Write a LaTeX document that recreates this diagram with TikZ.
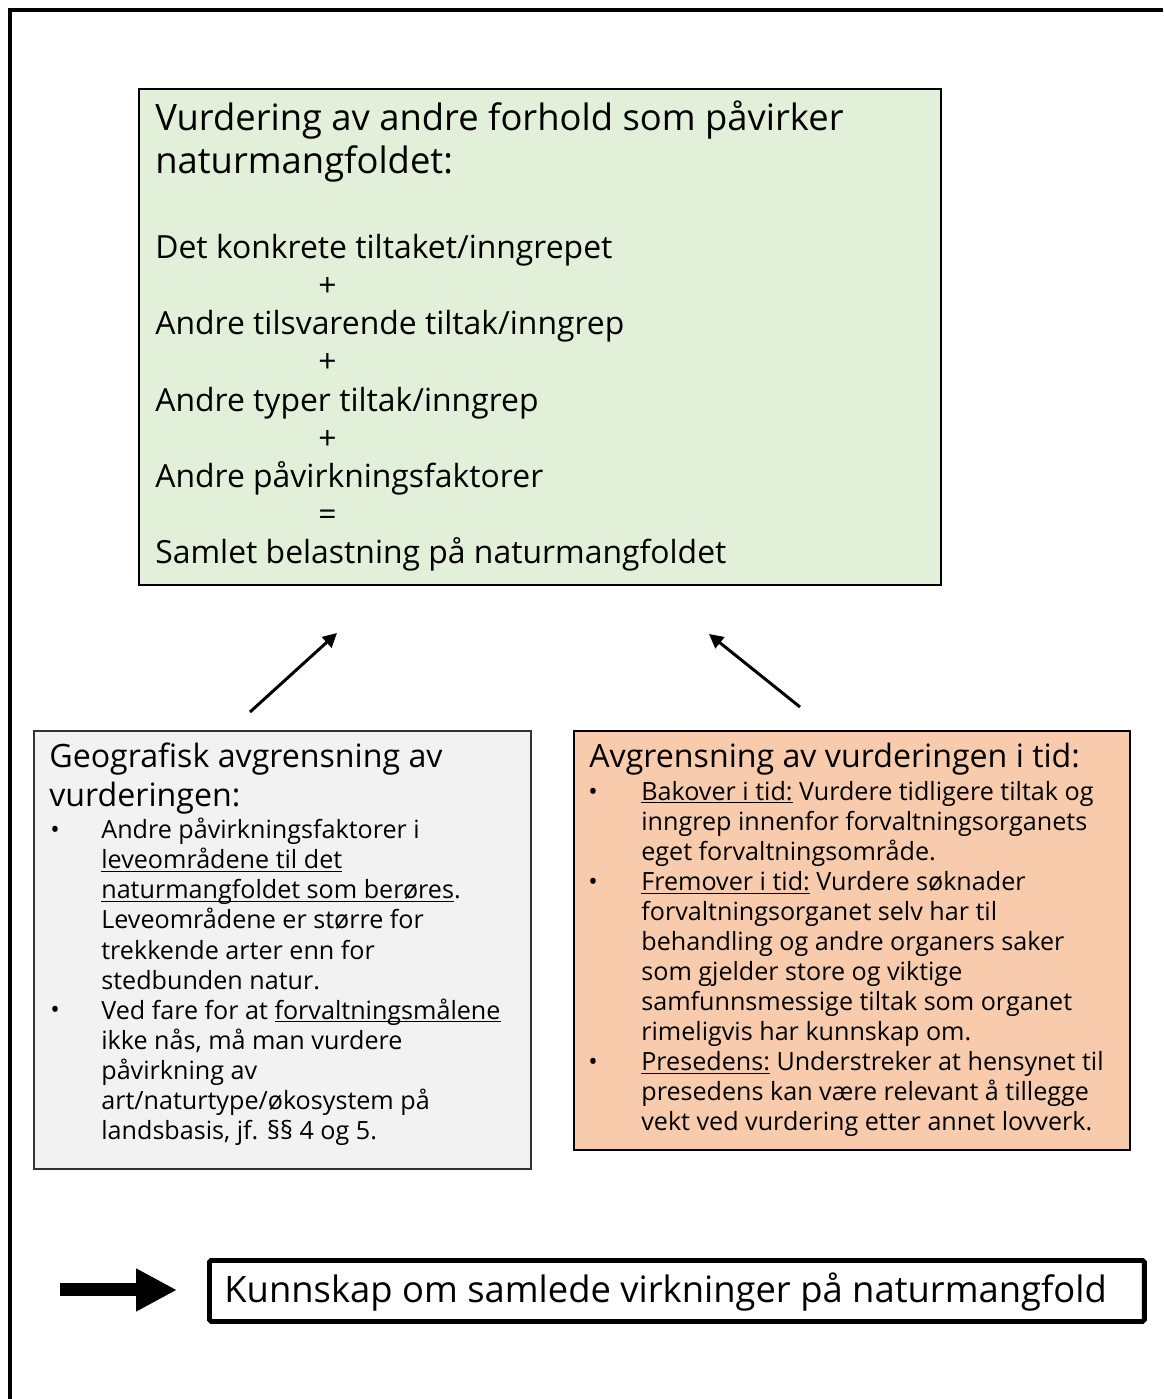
\documentclass[tikz,border=0pt]{standalone}
\usepackage{fontspec}
\setmainfont{Open Sans}
\usepackage{xcolor}
\usetikzlibrary{arrows.meta,positioning}

\definecolor{gronn}{HTML}{E2F0D9}
\definecolor{graa}{HTML}{F2F2F2}
\definecolor{oransje}{HTML}{F8CBAD}

\newsavebox{\strekboks}
\newcommand{\understrek}[1]{\sbox{\strekboks}{#1}\rlap{\rule[-1.7pt]{\wd\strekboks}{0.6pt}}\usebox{\strekboks}}

\tikzset{
  boks/.style={draw=black, line width=1.1pt, anchor=north west, inner sep=0pt},
  tekst/.style={anchor=north west, inner sep=0pt, align=left},
  tittel/.style={tekst, font=\fontsize{20.7}{24.4}\selectfont},
  brodtekst/.style={tekst, font=\fontsize{18.15}{21.7}\selectfont},
  overskrift/.style={tekst, font=\fontsize{18.3}{22.2}\selectfont},
  punkttekst/.style={tekst, font=\fontsize{14.3}{17.1}\selectfont},
  punkt/.style={anchor=base, inner sep=0pt, font=\fontsize{14.3}{17.1}\selectfont},
  pil/.style={line width=1.7pt, -{Triangle[length=8pt,width=8pt]}},
}

\begin{document}
\begin{tikzpicture}[x=0.02cm,y=-0.02cm]
  \useasboundingbox (0,0) rectangle (1163,1399);

  % ramme rundt
  \draw [line width=2.6pt] (1163,10) -- (10,10) -- (10,1399);

  % boksene
  \node (vurdering) [boks, fill=gronn, minimum width=16.04cm, minimum height=9.92cm] at (138,88) {};
  \node (geografi) [boks, draw=black!80, fill=graa, minimum width=9.94cm, minimum height=8.76cm] at (33,730) {};
  \node (tid) [boks, fill=oransje, minimum width=11.12cm, minimum height=8.38cm] at (573,730) {};
  \node (kunnskap) [boks, line width=2.8pt, rounded corners=1pt, minimum width=18.7cm, minimum height=1.22cm] at (207,1258) {};

  % tekst i den groenne boksen
  \node (vurderingTittel) [tittel] at (155,101)
    {Vurdering av andre forhold som påvirker\\naturmangfoldet:};
  \node (vurderingTekst) [brodtekst] at (155,234)
    {Det konkrete tiltaket/inngrepet\\
     \hspace*{3.26cm}+\\
     Andre tilsvarende tiltak/inngrep\\
     \hspace*{3.26cm}+\\
     Andre typer tiltak/inngrep\\
     \hspace*{3.26cm}+\\
     Andre påvirkningsfaktorer\\
     \hspace*{3.26cm}=\\
     Samlet belastning på naturmangfoldet};

  % geografisk avgrensning
  \node (geoTittel) [overskrift] at (49,743)
    {Geografisk avgrensning av\\vurderingen:};
  \node (geoTekst) [punkttekst] at (101,818)
    {Andre påvirkningsfaktorer i\\
     \understrek{leveområdene til det}\\
     \understrek{naturmangfoldet som berøres}.\\
     Leveområdene er større for\\
     trekkende arter enn for\\
     stedbunden natur.\\
     Ved fare for at \understrek{forvaltningsmålene}\\
     ikke nås, må man vurdere\\
     påvirkning av\\
     art/naturtype/økosystem på\\
     landsbasis, jf. §§ 4 og 5.};
  \node (geoPunkt1) [punkt] at (55,838) {•};
  \node (geoPunkt2) [punkt] at (55,1018) {•};

  % avgrensning i tid
  \node (tidTittel) [overskrift] at (589,743)
    {Avgrensning av vurderingen i tid:};
  \node (tidTekst) [punkttekst] at (641,781)
    {\understrek{Bakover i tid:} Vurdere tidligere tiltak og\\
     inngrep innenfor forvaltningsorganets\\
     eget forvaltningsområde.\\
     \understrek{Fremover i tid:} Vurdere søknader\\
     forvaltningsorganet selv har til\\
     behandling og andre organers saker\\
     som gjelder store og viktige\\
     samfunnsmessige tiltak som organet\\
     rimeligvis har kunnskap om.\\
     \understrek{Presedens:} Understreker at hensynet til\\
     presedens kan være relevant å tillegge\\
     vekt ved vurdering etter annet lovverk.};
  \node (tidPunkt1) [punkt] at (593,800) {•};
  \node (tidPunkt2) [punkt] at (593,890) {•};
  \node (tidPunkt3) [punkt] at (593,1070) {•};

  % konklusjon
  \node (kunnskapTekst) [anchor=base west, inner sep=0pt, font=\fontsize{20.7}{24.4}\selectfont] at (224,1302)
    {Kunnskap om samlede virkninger på naturmangfold};

  % piler
  \coordinate (geoStart) at (250,712);
  \coordinate (geoSlutt) at (337,633);
  \coordinate (tidStart) at (800,707);
  \coordinate (tidSlutt) at (709,634);
  \draw [pil] (geoStart) -- (geoSlutt);
  \draw [pil] (tidStart) -- (tidSlutt);

  \coordinate (storPil) at ([xshift=-2.94cm,yshift=0.02cm]kunnskap.west);
  \draw [line width=7.4pt, -{Triangle[length=23.2pt,width=22.7pt]}] (storPil) -- ([xshift=-0.6cm,yshift=0.02cm]kunnskap.west);
\end{tikzpicture}
\end{document}
